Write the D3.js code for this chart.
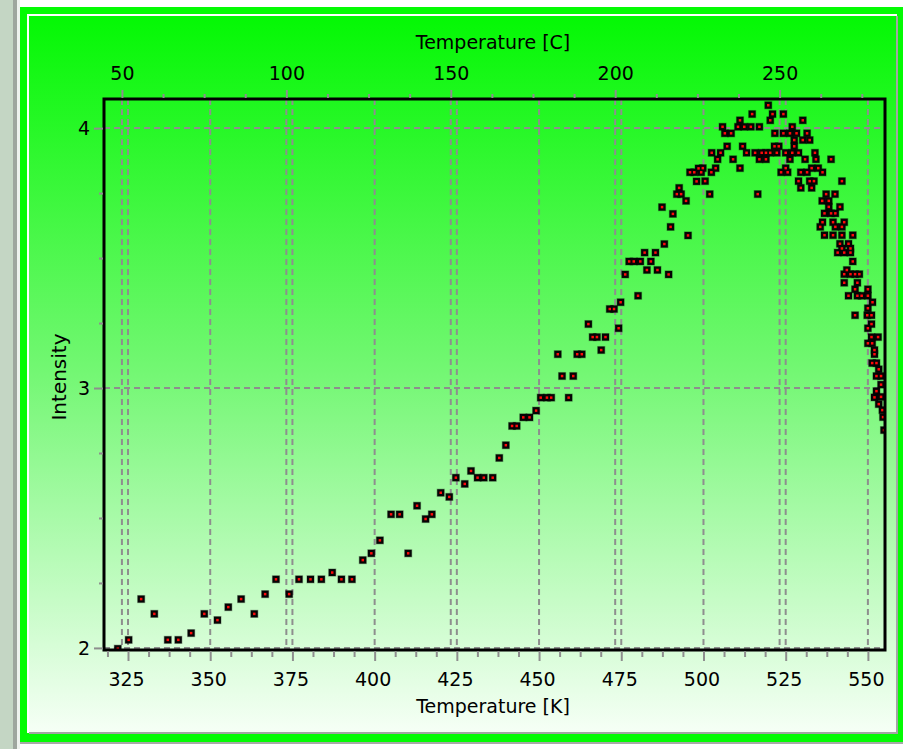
<!DOCTYPE html>
<html>
<head>
<meta charset="utf-8">
<script src="https://cdn.jsdelivr.net/npm/d3@7"></script>
<style>
body{margin:0;background:#fff;}
svg{display:block;font-family:"DejaVu Sans",sans-serif;}
</style>
</head>
<body>
<svg></svg>
<script>
// measured points: temperature in K, intensity
var kelvin = [321.9,325.2,329.0,333.0,337.1,340.3,344.2,348.2,352.2,355.5,359.4,363.4,366.7,370.0,374.0,377.0,
	380.5,383.8,387.1,389.9,393.1,396.4,399.0,401.6,405.0,407.6,410.2,412.9,415.5,417.4,420.1,422.7,424.7,427.4,
	429.3,431.3,433.2,435.9,437.9,439.9,441.8,443.2,445.2,447.1,449.1,450.5,452.4,453.7,455.7,457.0,459.0,460.4,
	461.6,463.0,465.0,466.3,467.6,468.9,470.2,471.5,472.8,474.2,474.8,476.2,477.4,478.8,480.1,480.8,482.1,482.8,
	484.0,485.4,486.0,487.4,488.1,489.4,490.0,490.7,491.9,492.6,493.2,494.7,495.3,495.9,497.2,497.9,498.5,499.3,
	499.8,500.5,501.9,502.4,502.5,503.7,504.3,505.2,505.8,506.5,507.2,508.4,509.0,510.5,511.1,511.1,511.9,512.4,
	513.1,514.4,514.8,515.7,516.5,517.0,517.0,517.7,519.0,519.0,519.7,520.3,520.3,521.0,521.6,521.7,522.3,522.9,
	523.6,524.3,524.3,525.0,525.0,525.6,526.3,526.3,527.0,527.0,527.6,527.6,528.3,528.9,528.9,529.6,529.6,530.2,
	530.2,530.9,531.5,531.5,532.3,532.3,532.9,532.9,533.6,533.9,534.2,534.9,535.5,536.1,536.2,536.2,536.8,536.8,
	537.3,538.1,538.1,538.8,538.8,539.4,539.4,540.0,540.1,540.1,540.8,541.5,541.5,542.1,542.1,542.1,542.1,542.8,
	542.8,542.8,542.8,543.6,544.1,544.1,544.7,544.7,544.7,545.4,545.4,546.1,546.1,546.1,546.8,546.8,547.4,548.1,
	549.8,550.0,550.0,550.0,550.0,550.0,551.1,551.1,551.1,551.3,551.3,551.4,552.0,552.0,552.0,552.6,552.6,552.6,
	553.1,553.3,553.3,554.0,554.0,554.0,554.4,554.6,554.9];
var intensity = [1.997,2.031,2.188,2.131,2.031,2.031,2.057,2.131,2.107,2.157,2.188,2.131,2.207,2.264,2.207,2.264,
	2.264,2.264,2.290,2.264,2.264,2.338,2.364,2.414,2.514,2.514,2.364,2.547,2.496,2.514,2.597,2.581,2.655,2.631,
	2.681,2.655,2.655,2.655,2.731,2.780,2.854,2.854,2.887,2.887,2.913,2.963,2.963,2.963,3.130,3.046,2.963,3.046,
	3.130,3.130,3.246,3.196,3.196,3.146,3.196,3.304,3.304,3.230,3.330,3.437,3.487,3.487,3.355,3.487,3.521,3.454,
	3.487,3.521,3.454,3.696,3.554,3.437,3.620,3.670,3.746,3.770,3.746,3.720,3.587,3.830,3.830,3.795,3.845,3.830,
	3.846,3.796,3.746,3.830,3.905,3.846,3.880,3.905,4.005,3.980,3.930,3.980,3.880,4.005,4.030,3.846,3.930,4.005,
	3.905,4.005,4.054,3.905,3.746,4.005,3.880,3.905,3.905,3.880,4.088,4.030,3.905,4.054,3.930,3.980,3.905,3.930,
	3.830,4.054,3.980,3.905,3.846,3.830,3.980,3.880,4.005,3.905,3.954,3.930,3.980,3.905,3.796,3.830,3.770,4.030,
	3.954,3.880,3.980,3.830,3.954,3.796,3.846,3.770,3.796,3.905,3.880,3.846,3.620,3.720,3.830,3.638,3.672,3.588,
	3.746,3.720,3.697,3.880,3.672,3.638,3.588,3.746,3.672,3.620,3.521,3.697,3.555,3.796,3.620,3.588,3.537,3.638,
	3.521,3.438,3.405,3.454,3.555,3.355,3.537,3.521,3.438,3.588,3.487,3.438,3.380,3.280,3.405,3.355,3.438,3.355,
	3.280,3.380,3.355,3.307,3.230,3.172,3.280,3.246,3.196,3.172,3.096,3.330,3.146,3.130,2.964,3.096,3.046,2.988,
	3.196,3.072,2.938,3.046,3.013,2.966,2.915,2.888,2.838];
var kelvinTicks = [325,350,375,400,425,450,475,500,525,550];
var celsiusTicks = [50,100,150,200,250];
var intensityTicks = [2,3,4];

var width = 903, height = 749;
var plotL = 104, plotR = 885, plotT = 99, plotB = 650;
var gridcolor = "#8e8e8e";

var svg = d3.select("svg").attr("width", width).attr("height", height);

var x = d3.scaleLinear().domain([317.7, 555.2]).range([plotL, plotR]);
var xc = d3.scaleLinear().domain([317.7 - 273.15, 555.2 - 273.15]).range([plotL, plotR]);
var y = d3.scaleLinear().domain([1.992, 4.112]).range([plotB, plotT]);

// window chrome
svg.append("rect").attr("width", width).attr("height", height).attr("fill", "#fff");
svg.append("rect").attr("x", 0).attr("y", 0).attr("width", 13).attr("height", height).attr("fill", "#c4d6c4");
svg.append("rect").attr("x", 13).attr("y", 0).attr("width", 4).attr("height", height).attr("fill", "#9ea69e");
svg.append("rect").attr("x", 17).attr("y", 0).attr("width", 3).attr("height", height).attr("fill", "#eef2ee");
svg.append("rect").attr("x", 20).attr("y", 7).attr("width", 883).attr("height", 735).attr("fill", "#04fb04");
svg.append("rect").attr("x", 20).attr("y", 742).attr("width", 883).attr("height", 2).attr("fill", "#a8a8a8");

var defs = svg.append("defs");
var grad = defs.append("linearGradient").attr("id", "bg")
	.attr("x1", 0).attr("y1", 0).attr("x2", 0).attr("y2", 1);
grad.append("stop").attr("offset", 0).attr("stop-color", "#04f804");
grad.append("stop").attr("offset", 0.5).attr("stop-color", "#74f774");
grad.append("stop").attr("offset", 1).attr("stop-color", "#f6fff6");

defs.append("clipPath").attr("id", "clip")
	.append("rect").attr("x", plotL).attr("y", plotT).attr("width", plotR - plotL).attr("height", plotB - plotT);

svg.append("rect").attr("x", 27).attr("y", 14).attr("width", 870).attr("height", 719).attr("fill", "#fff");
svg.append("rect").attr("x", 29).attr("y", 16).attr("width", 869).attr("height", 718).attr("fill", "#a4a4a4");
svg.append("rect").attr("x", 29).attr("y", 16).attr("width", 867).attr("height", 716).attr("fill", "url(#bg)");

// grid
var grid = svg.append("g").attr("stroke", gridcolor).attr("stroke-width", 2).attr("stroke-dasharray", "6,4");
grid.selectAll("line.gk").data(kelvinTicks).enter().append("line")
	.attr("x1", function(d){return x(d)}).attr("x2", function(d){return x(d)})
	.attr("y1", plotT).attr("y2", plotB);
grid.selectAll("line.gc").data(celsiusTicks).enter().append("line")
	.attr("x1", function(d){return xc(d)}).attr("x2", function(d){return xc(d)})
	.attr("y1", plotT).attr("y2", plotB);
grid.selectAll("line.gy").data(intensityTicks).enter().append("line")
	.attr("x1", plotL).attr("x2", plotR)
	.attr("y1", function(d){return y(d)}).attr("y2", function(d){return y(d)});

// points
var pts = svg.append("g").attr("clip-path", "url(#clip)");
pts.selectAll("rect.p").data(d3.range(kelvin.length)).enter().append("rect")
	.attr("x", function(i){return x(kelvin[i]) - 3.5})
	.attr("y", function(i){return y(intensity[i]) - 3.5})
	.attr("width", 7).attr("height", 7)
	.attr("fill", "#050505")
	.attr("stroke", "rgba(0,0,0,0.3)").attr("stroke-width", 1.2);
pts.selectAll("rect.c").data(d3.range(kelvin.length)).enter().append("rect")
	.attr("x", function(i){return x(kelvin[i]) - 1.25})
	.attr("y", function(i){return y(intensity[i]) - 1.25})
	.attr("width", 2.5).attr("height", 2.5)
	.attr("fill", "#ff0a0a");

// frame
svg.append("rect").attr("x", plotL).attr("y", plotT).attr("width", plotR - plotL).attr("height", plotB - plotT)
	.attr("fill", "none").attr("stroke", "#000").attr("stroke-width", 3);

// axes
function styleAxis(g){
	g.select(".domain").remove();
	g.selectAll("line").attr("stroke", gridcolor).attr("stroke-width", 2);
	g.selectAll("text").attr("fill", "#000").attr("font-size", 19).attr("font-family", "DejaVu Sans");
}
function minor(major, step, lo, hi){
	return d3.range(lo, hi, step).filter(function(v){
		return major.every(function(m){return Math.abs(m - v) > 1e-6});
	});
}

var bx = svg.append("g").attr("transform", "translate(0," + (plotB + 1) + ")");
bx.call(d3.axisBottom(x).tickValues(minor(kelvinTicks, 6.25, 318.75, 551)).tickSize(6).tickFormat(""));
bx.call(styleAxis);
var bxm = svg.append("g").attr("transform", "translate(0," + (plotB + 1) + ")");
bxm.call(d3.axisBottom(x).tickValues(kelvinTicks).tickSize(10).tickPadding(12).tickFormat(d3.format("d")));
bxm.call(styleAxis);
bxm.selectAll("text").attr("dx", -2);

var tx = svg.append("g").attr("transform", "translate(0," + (plotT - 1) + ")");
tx.call(d3.axisTop(xc).tickValues(minor(celsiusTicks, 12.5, 62.5, 280)).tickSize(4).tickFormat(""));
tx.call(styleAxis);
var txm = svg.append("g").attr("transform", "translate(0," + (plotT - 1) + ")");
txm.call(d3.axisTop(xc).tickValues(celsiusTicks).tickSize(8).tickPadding(10).tickFormat(d3.format("d")));
txm.call(styleAxis);

var ly = svg.append("g").attr("transform", "translate(" + (plotL - 1) + ",0)");
ly.call(d3.axisLeft(y).tickValues(minor(intensityTicks, 0.25, 2.25, 4)).tickSize(4).tickFormat(""));
ly.call(styleAxis);
var lym = svg.append("g").attr("transform", "translate(" + (plotL - 1) + ",0)");
lym.call(d3.axisLeft(y).tickValues(intensityTicks).tickSize(9).tickPadding(4).tickFormat(d3.format("d")));
lym.call(styleAxis);

// titles
svg.append("text").text("Temperature [C]")
	.attr("x", 493).attr("y", 49).attr("text-anchor", "middle")
	.attr("font-size", 19).attr("fill", "#000");
svg.append("text").text("Temperature [K]")
	.attr("x", 493).attr("y", 713).attr("text-anchor", "middle")
	.attr("font-size", 19).attr("fill", "#000");
svg.append("text").text("Intensity")
	.attr("transform", "translate(66,377) rotate(-90)").attr("text-anchor", "middle")
	.attr("font-size", 20).attr("fill", "#000");
</script>
</body>
</html>
